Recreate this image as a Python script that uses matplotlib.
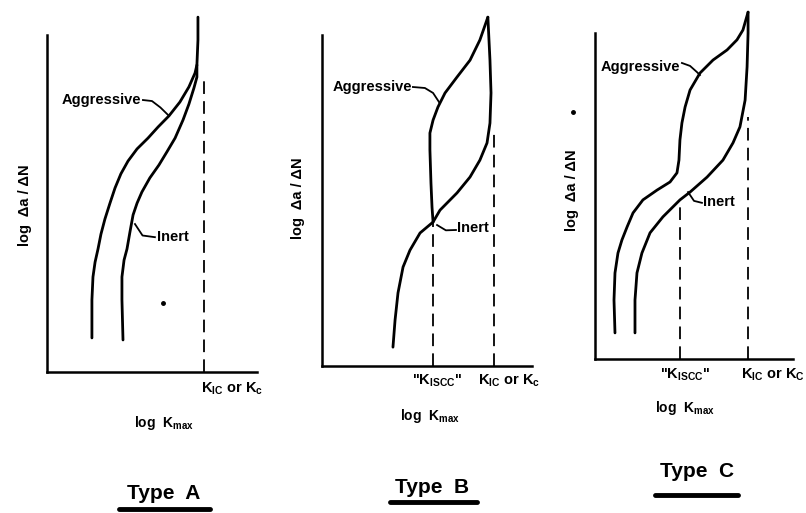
import matplotlib.pyplot as plt

plt.rcParams['font.family'] = ['Liberation Sans', 'DejaVu Sans']
plt.rcParams['font.weight'] = 'bold'
plt.rcParams['mathtext.fontset'] = 'custom'
plt.rcParams['mathtext.rm'] = 'Liberation Sans:bold'
plt.rcParams['mathtext.it'] = 'Liberation Sans:bold'
plt.rcParams['mathtext.bf'] = 'Liberation Sans:bold'
plt.rcParams['mathtext.default'] = 'rm'

# schematic curves: x = log Kmax, y = log da/dN (arbitrary units, axis length = 10)
# Type A
a_aggr_x = [2.14, 2.14, 2.19, 2.29, 2.43, 2.57, 2.76, 3.0, 3.24, 3.52, 3.86, 4.29, 4.81,
            5.29, 5.81, 6.33, 6.76, 7.05, 7.14, 7.19, 7.19]
a_aggr_y = [1.01, 2.14, 2.82, 3.26, 3.65, 4.09, 4.54, 5.01, 5.46, 5.88, 6.26, 6.62, 6.94,
            7.27, 7.60, 8.01, 8.46, 8.87, 9.11, 9.85, 10.53]
a_inert_x = [3.62, 3.57, 3.57, 3.67, 3.81, 3.95, 4.10, 4.29, 4.52, 4.90, 5.33, 5.71, 6.10,
             6.48, 6.76, 7.0, 7.14, 7.14]
a_inert_y = [0.95, 2.14, 2.82, 3.32, 3.65, 4.15, 4.66, 5.01, 5.34, 5.76, 6.14, 6.53, 6.94,
             7.48, 7.95, 8.43, 8.75, 9.11]
a_kic = 7.5
a_kic_top = 8.8

# Type B
b_aggr_x = [7.90, 7.52, 7.05, 6.43, 5.86, 5.52, 5.29, 5.14, 5.14, 5.19, 5.24, 5.29]
b_aggr_y = [10.54, 9.85, 9.24, 8.73, 8.25, 7.82, 7.43, 7.04, 6.53, 5.53, 4.80, 4.35]
b_inert_x = [3.38, 3.48, 3.62, 3.86, 4.19, 4.67, 5.29, 5.62, 6.43, 7.05, 7.52, 7.86, 8.0,
             8.05, 8.0, 7.90]
b_inert_y = [0.57, 1.39, 2.21, 2.99, 3.50, 4.02, 4.35, 4.71, 5.23, 5.71, 6.22, 6.74, 7.34,
             8.25, 9.24, 10.54]
b_kiscc, b_kiscc_top = 5.29, 4.35
b_kic, b_kic_top = 8.19, 7.07

# Type C
c_aggr_x = [1.01, 0.96, 1.01, 1.16, 1.36, 1.62, 1.92, 2.42, 3.13, 3.79, 4.14, 4.24, 4.29,
            4.39, 4.55, 4.80, 5.30, 5.96, 6.67, 7.17, 7.47, 7.73]
c_aggr_y = [0.8, 1.81, 2.64, 3.25, 3.65, 4.05, 4.48, 4.88, 5.18, 5.43, 5.71, 6.10, 6.72,
            7.24, 7.73, 8.25, 8.77, 9.17, 9.48, 9.79, 10.09, 10.64]
c_inert_x = [2.02, 2.02, 2.12, 2.37, 2.78, 3.43, 4.29, 4.80, 5.66, 6.46, 6.97, 7.32, 7.58,
             7.68, 7.73, 7.73]
c_inert_y = [0.8, 1.81, 2.64, 3.25, 3.87, 4.36, 4.88, 5.12, 5.58, 6.10, 6.63, 7.12, 7.94,
             8.96, 10.0, 10.64]
c_kiscc, c_kiscc_top = 4.29, 4.88
c_kic, c_kic_top = 7.72, 7.42

# label leaders
a_aggr_lead = ([4.57, 5.0, 5.4, 5.81], [8.07, 8.04, 7.85, 7.60])
a_inert_lead = ([4.19, 4.55, 5.14], [4.39, 4.05, 4.0])
b_aggr_lead = ([4.33, 4.9, 5.29, 5.6], [8.43, 8.4, 8.25, 7.95])
b_inert_lead = ([5.48, 5.9, 6.38], [4.26, 4.1, 4.11])
c_aggr_lead = ([4.39, 4.8, 5.15, 5.30], [9.08, 8.99, 8.8, 8.71])
c_inert_lead = ([4.70, 5.0, 5.40], [5.12, 4.85, 4.79])

fig = plt.figure(figsize=(8.06, 5.13), dpi=100)

boxes = [[0.0583, 0.2749, 0.2605, 0.6569],
         [0.3995, 0.2865, 0.2605, 0.6452],
         [0.7382, 0.3002, 0.2457, 0.6355]]

lw = 2.0
txt = 10.5


def setup(ax):
    ax.set_xlim(0, 10)
    ax.set_ylim(0, 10)
    ax.spines['top'].set_visible(False)
    ax.spines['right'].set_visible(False)
    ax.spines['left'].set_linewidth(1.8)
    ax.spines['bottom'].set_linewidth(1.8)
    ax.set_xticks([])
    ax.set_yticks([])
    ax.patch.set_alpha(0)


def dashed(ax, x, top):
    ax.plot([x, x], [0, top], color='black', lw=1.3, dashes=(7, 4), clip_on=False)


def curve(ax, x, y):
    ax.plot(x, y, color='black', lw=lw, clip_on=False, solid_capstyle='round',
            solid_joinstyle='round')


def common(ax, ylab_x, ylab_y, kmax_x, type_x, type_y, type_name, ul):
    ax.text(ylab_x, ylab_y, 'log  \u0394a / \u0394N', rotation=90, ha='center', va='center',
            fontsize=txt)
    ax.text(kmax_x, -1.5, 'log  K$_{max}$', ha='center', va='center', fontsize=txt - 0.5)
    ax.text(type_x, type_y, type_name, ha='center', va='center', fontsize=15,
            fontweight='heavy')
    ax.plot(ul[0], ul[1], color='black', lw=3.5, clip_on=False, solid_capstyle='round')


axA = fig.add_axes(boxes[0])
setup(axA)
curve(axA, a_aggr_x, a_aggr_y)
curve(axA, a_inert_x, a_inert_y)
dashed(axA, a_kic, a_kic_top)
axA.plot(*a_aggr_lead, color='black', lw=1.3, clip_on=False)
axA.plot(*a_inert_lead, color='black', lw=1.3, clip_on=False)
axA.text(4.5, 8.07, 'Aggressive', ha='right', va='center', fontsize=txt)
axA.text(5.25, 4.0, 'Inert', ha='left', va='center', fontsize=txt)
axA.plot([5.52], [2.05], 'o', color='black', ms=2.5, clip_on=False)
axA.text(8.8, -0.5, 'K$_{IC}$ or K$_c$', ha='center', va='center', fontsize=txt)
common(axA, -1.05, 4.96, 5.57, 5.55, -3.6, 'Type  A', ([3.43, 7.76], [-4.08, -4.08]))

axB = fig.add_axes(boxes[1])
setup(axB)
curve(axB, b_aggr_x, b_aggr_y)
curve(axB, b_inert_x, b_inert_y)
dashed(axB, b_kiscc, b_kiscc_top)
dashed(axB, b_kic, b_kic_top)
axB.plot(*b_aggr_lead, color='black', lw=1.3, clip_on=False)
axB.plot(*b_inert_lead, color='black', lw=1.3, clip_on=False)
axB.text(4.3, 8.43, 'Aggressive', ha='right', va='center', fontsize=txt)
axB.text(6.45, 4.17, 'Inert', ha='left', va='center', fontsize=txt)
axB.text(5.48, -0.45, '"K$_{ISCC}$"', ha='center', va='center', fontsize=txt)
axB.text(8.9, -0.45, 'K$_{IC}$ or K$_c$', ha='center', va='center', fontsize=txt)
common(axB, -1.14, 5.08, 5.14, 5.24, -3.66, 'Type  B', ([3.24, 7.38], [-4.1, -4.1]))

axC = fig.add_axes(boxes[2])
setup(axC)
curve(axC, c_aggr_x, c_aggr_y)
curve(axC, c_inert_x, c_inert_y)
dashed(axC, c_kiscc, c_kiscc_top)
dashed(axC, c_kic, c_kic_top)
axC.plot(*c_aggr_lead, color='black', lw=1.3, clip_on=False)
axC.plot(*c_inert_lead, color='black', lw=1.3, clip_on=False)
axC.text(4.3, 8.96, 'Aggressive', ha='right', va='center', fontsize=txt)
axC.text(5.45, 4.82, 'Inert', ha='left', va='center', fontsize=txt)
axC.plot([-1.11], [7.58], 'o', color='black', ms=2.5, clip_on=False)
axC.text(4.55, -0.5, '"K$_{ISCC}$"', ha='center', va='center', fontsize=txt)
axC.text(9.0, -0.5, 'K$_{IC}$ or K$_C$', ha='center', va='center', fontsize=txt)
common(axC, -1.16, 5.18, 4.55, 5.15, -3.45, 'Type  C', ([3.03, 7.22], [-4.17, -4.17]))

fig.savefig('out.png', dpi=100, facecolor='white')
